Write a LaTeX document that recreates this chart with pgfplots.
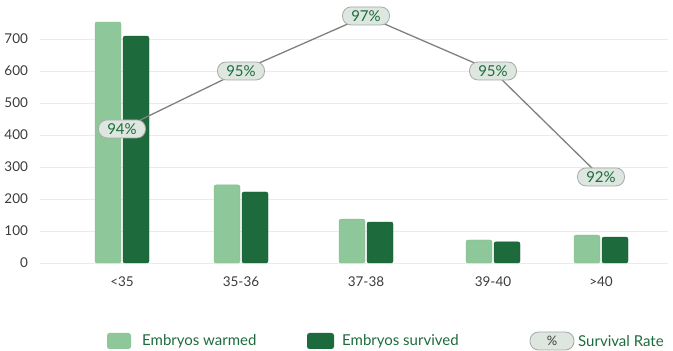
\documentclass[border=0pt]{standalone}
\usepackage{pgfplots}
\pgfplotsset{compat=1.18}
\usepackage{fontspec}
\setmainfont{Lato}
\definecolor{lightg}{RGB}{142,199,153}
\definecolor{darkg}{RGB}{29,107,61}
\definecolor{pillfill}{RGB}{222,230,224}
\definecolor{pilldraw}{RGB}{165,170,167}
\definecolor{txt}{RGB}{60,60,60}
\definecolor{linegray}{RGB}{128,128,128}
\tikzset{pill/.style={draw=pilldraw, fill=pillfill, line width=0.8pt, rounded corners=8.5pt, minimum width=47pt, minimum height=18pt, inner sep=0pt, text=darkg, font=\fontsize{15}{16}\selectfont}}
\begin{document}
\begin{tikzpicture}[x=1pt,y=1pt]
\useasboundingbox (0pt,0pt) rectangle (673pt,351pt);
\begin{axis}[
  at={(40pt,88pt)}, anchor=south west, scale only axis,
  width=628pt, height=263pt,
  xmin=40, xmax=668, ymin=0, ymax=821.875,
  axis line style={draw=none},
  ytick={0,100,...,700},
  ymajorgrids, grid style={color=black!8, line width=0.7pt},
  major tick length=0pt,
  xtick={122,241,366,493,601},
  xticklabels={<35,35-36,37-38,39-40,>40},
  tick label style={font=\fontsize{13.5}{15}\selectfont, text=txt},
  /pgf/number format/assume math mode=true,
  yticklabel style={xshift=-8.5pt},
  xticklabel style={yshift=-10pt},
  clip=false,
]
\addplot[ybar, bar width=26, bar shift=-14, fill=lightg, draw=lightg!95!black, line width=0.4pt, rounded corners=2pt]
  coordinates {(122,753) (241,244) (366,137) (493,72) (601,87)};
\addplot[ybar, bar width=26, bar shift=14, fill=darkg, draw=darkg!85!black, line width=0.4pt, rounded corners=2pt]
  coordinates {(122,709) (241,222) (366,128) (493,66) (601,81)};
\addplot[linegray, line width=1.3pt, mark=none, nodes near coords, point meta=explicit symbolic,
  nodes near coords style={pill, anchor=center}]
  coordinates {(122,419) [94\%] (241,600) [95\%] (366,772) [97\%] (493,600) [95\%] (601,269) [92\%]};
\end{axis}
% legend
\fill[lightg, rounded corners=2.5pt] (107pt,2pt) rectangle (131pt,18pt);
\node[anchor=west, inner sep=0pt, text=darkg, font=\fontsize{15}{16}\selectfont] at (142pt,10pt) {Embryos warmed};
\fill[darkg, rounded corners=2.5pt] (307pt,2pt) rectangle (334pt,18pt);
\node[anchor=west, inner sep=0pt, text=darkg, font=\fontsize{15}{16}\selectfont] at (342pt,10pt) {Embryos survived};
\node[pill, minimum width=44pt, text=txt, font=\fontsize{13}{14}\selectfont] at (552pt,10pt) {\%};
\node[anchor=west, inner sep=0pt, text=darkg, font=\fontsize{15}{16}\selectfont] at (578pt,10pt) {Survival Rate};
\end{tikzpicture}
\end{document}
